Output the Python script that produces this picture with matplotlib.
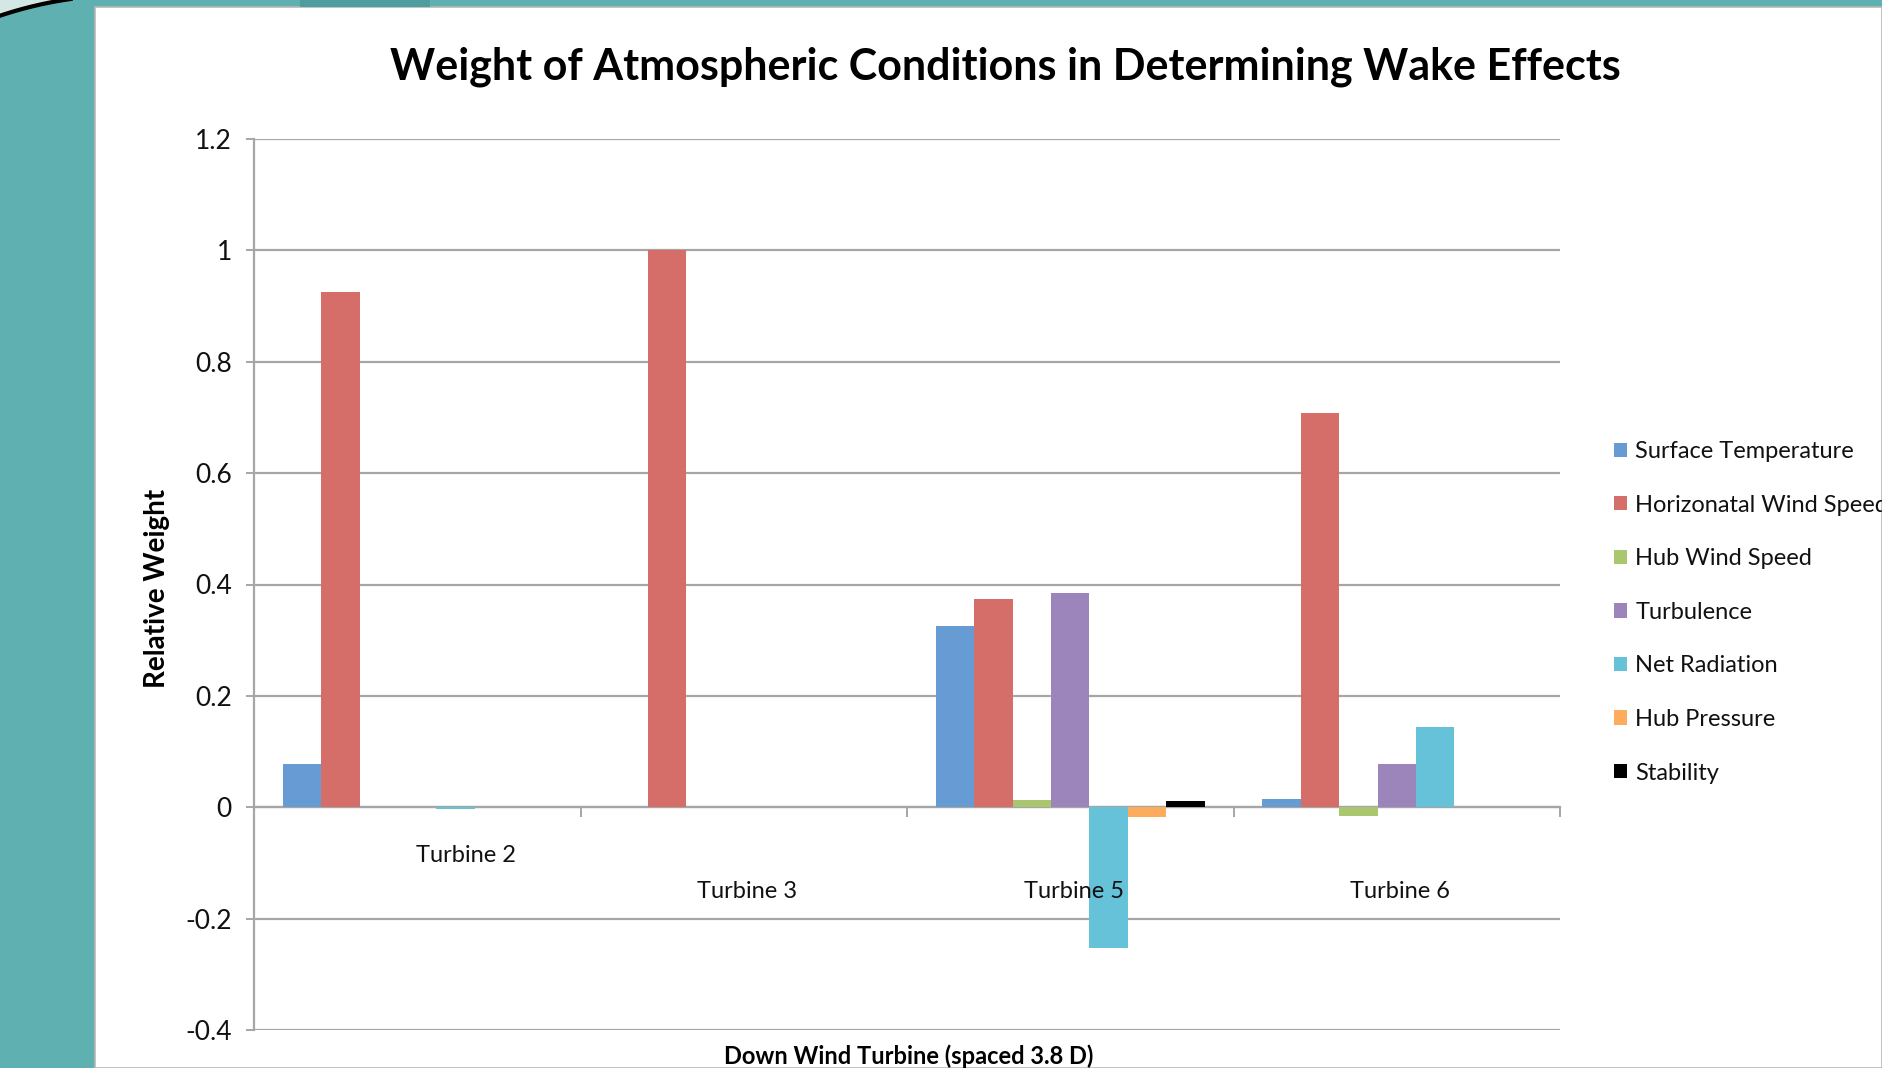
import matplotlib
matplotlib.use("Agg")
import matplotlib.pyplot as plt
import matplotlib.transforms as mtransforms
from matplotlib.patches import Rectangle, Polygon
import numpy as np

categories = ["Turbine 2", "Turbine 3", "Turbine 5", "Turbine 6"]
series_names = ["Surface Temperature", "Horizonatal Wind Speed", "Hub Wind Speed",
                "Turbulence", "Net Radiation", "Hub Pressure", "Stability"]
surface_temperature = [0.078, 0.0, 0.325, 0.014]
horizontal_wind_speed = [0.925, 1.0, 0.374, 0.708]
hub_wind_speed = [0.0, 0.0, 0.013, -0.016]
turbulence = [0.0, 0.0, 0.385, 0.077]
net_radiation = [-0.004, 0.0, -0.252, 0.144]
hub_pressure = [0.0, 0.0, -0.017, 0.0]
stability = [0.0, 0.0, 0.012, 0.0]
y_ticks = [-0.4, -0.2, 0, 0.2, 0.4, 0.6, 0.8, 1, 1.2]
y_tick_labels = ["-0.4", "-0.2", "0", "0.2", "0.4", "0.6", "0.8", "1", "1.2"]

values = [surface_temperature, horizontal_wind_speed, hub_wind_speed, turbulence,
          net_radiation, hub_pressure, stability]
colors = ["#669BD4", "#D56E68", "#AAC66E", "#9B85BB", "#66C2D8", "#FDAC5E", "#000000"]

FONT = ["Lato", "DejaVu Sans"]
plt.rcParams["font.family"] = FONT
TXT = "#111111"

W, H = 1882, 1068
fig = plt.figure(figsize=(W / 100, H / 100), dpi=100)
fig.patch.set_facecolor("#5FB0B0")

# slide decorations: light corner beyond a dark arc, white panel
cx, cy, r = 127.0, 395.0, 400.0
ang = np.linspace(np.pi * 0.5, np.pi * 1.0, 200)
arc_px = np.column_stack([cx + r * np.cos(ang + np.pi * 0.5 - np.pi * 0.5 + np.pi * 0.0) * 0 + cx * 0, ang * 0])
t = np.linspace(0, 1, 300)
theta = np.arctan2(-(0 - cy), 60 - cx) + t * 0  # placeholder
a1 = np.arctan2(cy - 0, 60 - cx)
a2 = np.arctan2(cy - 15, 0 - cx)
aa = np.linspace(a1 - 0.15, a2 + 0.15, 300)
px = cx + r * np.cos(aa)
py = cy - r * np.sin(aa)
fx, fy = px / W, 1 - py / H
corner = np.vstack([np.column_stack([fx, fy]), [[-0.05, 1.05]]])
fig.add_artist(Polygon(corner, closed=True, transform=fig.transFigure,
                       facecolor="#D3E7E5", edgecolor="none", zorder=0))
fig.add_artist(plt.Line2D(fx, fy, transform=fig.transFigure, color="black",
                          linewidth=3.0, zorder=1))

fig.add_artist(Rectangle((95 / W, 0), 1 - 95 / W, 1 - 7 / H, transform=fig.transFigure,
                         facecolor="white", edgecolor="#B8B8B8", linewidth=1.2, zorder=0))
fig.add_artist(Rectangle((300 / W, 1 - 7 / H), 130 / W, 7 / H, transform=fig.transFigure,
                         facecolor="#4E9E9E", edgecolor="none", zorder=0))

ax = fig.add_axes([254 / W, 1 - 1030 / H, (1560 - 254) / W, (1030 - 139) / H])
ax.set_facecolor("none")

x = np.arange(len(categories))
bw = 1 / 8.5
for i, (vals, col, name) in enumerate(zip(values, colors, series_names)):
    ax.bar(x + (i - 3) * bw, vals, width=bw, color=col, label=name, zorder=3,
           linewidth=0)

ax.set_xlim(-0.5, len(categories) - 0.5)
ax.set_ylim(-0.4, 1.2)
ax.set_yticks(y_ticks)
ax.set_yticklabels(y_tick_labels, fontsize=19)
ax.yaxis.grid(True, color="#A6A6A6", linewidth=1.6, zorder=1)
ax.tick_params(axis="y", length=6, width=1.4, color="#A6A6A6", pad=10, labelcolor=TXT)

for s in ["top", "right"]:
    ax.spines[s].set_visible(False)
ax.spines["left"].set_color("#A6A6A6")
ax.spines["left"].set_linewidth(1.6)
ax.spines["bottom"].set_position(("data", 0))
ax.spines["bottom"].set_color("#A6A6A6")
ax.spines["bottom"].set_linewidth(1.6)
ax.spines["bottom"].set_zorder(2)
ax.set_xticks(np.arange(len(categories) + 1) - 0.5)
ax.set_xticklabels([])
ax.tick_params(axis="x", length=7, width=1.4, color="#A6A6A6", direction="out")

# staggered category labels
label_x = [0.15, 1.01, 2.01, 3.01]
label_y = [856, 892, 892, 892]
blend = mtransforms.blended_transform_factory(ax.transData, fig.transFigure)
for lx, ly, lab in zip(label_x, label_y, categories):
    ax.text(lx, 1 - ly / H, lab, transform=blend, ha="center", va="center",
            fontsize=17, color=TXT, zorder=5)

fig.text(1005 / W, 1 - 67 / H, "Weight of Atmospheric Conditions in Determining Wake Effects",
         ha="center", va="center", fontsize=31, fontweight="bold", color="black")
fig.text(157 / W, 1 - 588 / H, "Relative Weight", rotation=90, ha="center", va="center",
         fontsize=20, fontweight="bold", color="black")
fig.text(909 / W, 1 - 1056 / H, "Down Wind Turbine (spaced 3.8 D)", ha="center", va="center",
         fontsize=17, fontweight="bold", color="black")

leg = ax.legend(loc="upper left", bbox_to_anchor=(1614 / W, 1 - 441 / H),
                bbox_transform=fig.transFigure, frameon=False, fontsize=17,
                handlelength=0.55, handleheight=0.55, handletextpad=0.35, labelspacing=1.38,
                borderpad=0, borderaxespad=0)
for tx in leg.get_texts():
    tx.set_color(TXT)

fig.savefig("out.png", dpi=100, facecolor=fig.get_facecolor())
